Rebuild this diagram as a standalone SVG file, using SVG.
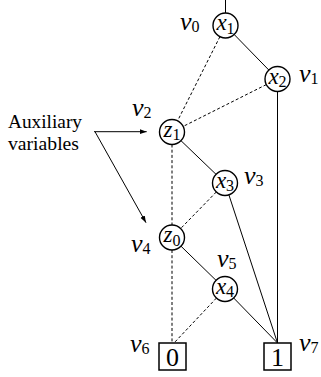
<svg xmlns="http://www.w3.org/2000/svg" width="321" height="377" viewBox="0 0 321 377">
<defs>
<marker id="ah" viewBox="0 0 10 10" refX="10" refY="5" markerWidth="7" markerHeight="7" markerUnits="userSpaceOnUse" orient="auto">
<path d="M0,1.5 L10,5 L0,8.5 Z" fill="#000"/>
</marker>
<style>
.n{fill:#fff;stroke:#000;stroke-width:1.4}
.b{fill:#fff;stroke:#000;stroke-width:1.5}
.s{stroke:#000;stroke-width:1;fill:none}
.d{stroke:#000;stroke-width:1;fill:none;stroke-dasharray:3,2.2}
text{font-family:"Liberation Serif","DejaVu Serif",serif;fill:#000}
.lab{font-style:italic;font-size:26px}
.nl{font-style:italic;font-size:23px;text-anchor:middle}
.sub{font-size:16px;font-style:normal}
.t{font-size:26px;text-anchor:middle}
.aux{font-size:18px}
</style>
</defs>
<g id="connectors">
<line class="s" x1="225.5" y1="0" x2="225.5" y2="13"/>
<line class="s" x1="234.2" y1="34.5" x2="268.8" y2="70"/>
<line class="d" x1="219.9" y1="36.7" x2="177.6" y2="120.8"/>
<line class="d" x1="266.3" y1="84.6" x2="183.2" y2="126.4"/>
<line class="s" x1="277.5" y1="91.5" x2="277.5" y2="343"/>
<line class="s" x1="181" y1="140.7" x2="216" y2="174.3"/>
<line class="d" x1="172" y1="144.5" x2="172" y2="225"/>
<line class="d" x1="216.3" y1="192" x2="180.7" y2="228.5"/>
<line class="s" x1="228.9" y1="194.9" x2="277.5" y2="343"/>
<line class="s" x1="181" y1="246.2" x2="216" y2="280.3"/>
<line class="d" x1="172" y1="250" x2="172" y2="343"/>
<line class="s" x1="233.7" y1="298" x2="277.5" y2="343"/>
<line class="d" x1="216.4" y1="298.1" x2="174" y2="343"/>
<line class="s" x1="94" y1="131.7" x2="146.7" y2="131.7" marker-end="url(#ah)"/>
<line class="s" x1="95" y1="131.7" x2="146" y2="222.7" marker-end="url(#ah)"/>
</g>
<g id="v0">
<circle class="n" cx="225.5" cy="25.5" r="12.5"/>
<text class="nl" x="225.5" y="30">x<tspan class="sub" dy="3.5">1</tspan></text>
<text class="lab" x="180" y="30">v<tspan class="sub" dy="2">0</tspan></text>
</g>
<g id="v1">
<circle class="n" cx="277.5" cy="79" r="12.5"/>
<text class="nl" x="277.5" y="83.5">x<tspan class="sub" dy="3.5">2</tspan></text>
<text class="lab" x="299" y="82">v<tspan class="sub" dy="2">1</tspan></text>
</g>
<g id="v2">
<circle class="n" cx="172" cy="132" r="12.5"/>
<text class="nl" x="172" y="136.5">z<tspan class="sub" dy="3.5">1</tspan></text>
<text class="lab" x="132" y="116">v<tspan class="sub" dy="2">2</tspan></text>
</g>
<g id="v3">
<circle class="n" cx="225" cy="183" r="12.5"/>
<text class="nl" x="225" y="187.5">x<tspan class="sub" dy="3.5">3</tspan></text>
<text class="lab" x="244" y="184">v<tspan class="sub" dy="2">3</tspan></text>
</g>
<g id="v4">
<circle class="n" cx="172" cy="237.5" r="12.5"/>
<text class="nl" x="172" y="242">z<tspan class="sub" dy="3.5">0</tspan></text>
<text class="lab" x="131" y="252">v<tspan class="sub" dy="2">4</tspan></text>
</g>
<g id="v5">
<circle class="n" cx="225" cy="289" r="12.5"/>
<text class="nl" x="225" y="293.5">x<tspan class="sub" dy="3.5">4</tspan></text>
<text class="lab" x="217" y="267">v<tspan class="sub" dy="2">5</tspan></text>
</g>
<g id="v6">
<rect class="b" x="159" y="343" width="27" height="27"/>
<text class="t" x="172.5" y="366">0</text>
<text class="lab" x="130" y="352">v<tspan class="sub" dy="2">6</tspan></text>
</g>
<g id="v7">
<rect class="b" x="264" y="343" width="27" height="27"/>
<text class="t" x="277.5" y="366">1</text>
<text class="lab" x="299" y="351">v<tspan class="sub" dy="2">7</tspan></text>
</g>
<g id="aux">
<text class="aux" x="8" y="128" textLength="74" lengthAdjust="spacingAndGlyphs">Auxiliary</text>
<text class="aux" x="8" y="150" textLength="71" lengthAdjust="spacingAndGlyphs">variables</text>
</g>
</svg>
